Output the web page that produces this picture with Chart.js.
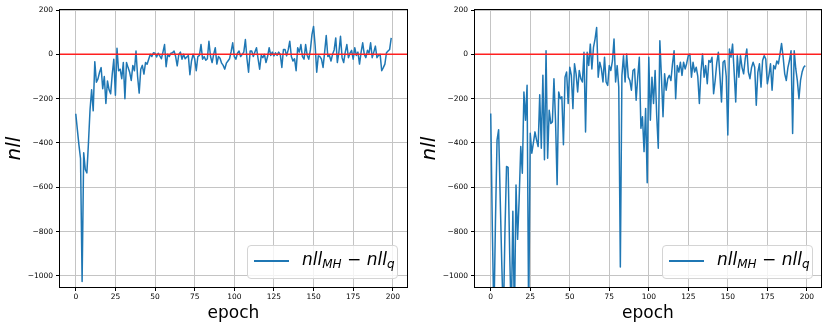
<!DOCTYPE html>
<html>
<head>
<meta charset="utf-8">
<script src="https://cdn.jsdelivr.net/npm/chart.js@4.4.1/dist/chart.umd.min.js"></script>
<style>
  body { margin: 0; background: #fff; }
  #wrap { position: relative; width: 830px; height: 328px; overflow: hidden; }
  #wrap canvas { position: absolute; top: 0; }
  .legend {
    position: absolute; box-sizing: border-box;
    border: 1px solid #d4d4d4; border-radius: 4px;
    background: rgba(255,255,255,0.8);
    font-family: "DejaVu Sans", sans-serif; color: #000;
  }
  .legend .swatch { position: absolute; left: 6px; top: 14px; width: 35px; height: 1.5px; background: #1f77b4; }
  .legend .label { position: absolute; left: 54px; top: 3px; font-size: 17px; line-height: 20px; font-style: italic; white-space: nowrap; }
  .legend .label .sub { font-size: 12px; vertical-align: -3px; }
  .legend .label .op { font-style: normal; }
</style>
</head>
<body>
<div id="wrap">
  <canvas id="chartLeft" width="415" height="328" style="left:0"></canvas>
  <canvas id="chartRight" width="415" height="328" style="left:415px"></canvas>
  <div class="legend" style="left:247px; top:245px; width:151px; height:34px;">
    <div class="swatch"></div>
    <div class="label">nll<span class="sub">MH</span><span class="op"> − </span>nll<span class="sub">q</span></div>
  </div>
  <div class="legend" style="left:662px; top:245px; width:151px; height:34px;">
    <div class="swatch"></div>
    <div class="label">nll<span class="sub">MH</span><span class="op"> − </span>nll<span class="sub">q</span></div>
  </div>
</div>
<script>
// nll_MH - nll_q per epoch
const nllLeft = [
  -268, -340, -410, -470, -1025, -444, -520, -535, -400, -250,
  -160, -255, -33, -126, -111, -81, -60, -155, -100, -222,
  -120, -160, -178, -90, -22, -185, 27, -74, -67, -110,
  -37, -200, -37, -60, -81, -118, -50, -74, 15, -100,
  -175, -67, -50, -89, -37, -45, -22, 0, -10, 7,
  5, -12, 5, -7, -20, 10, 44, -56, 0, -10,
  5, 7, 15, -10, -52, 0, 10, -22, 0, -20,
  -12, -5, -92, -30, 0, -20, -74, -10, -5, 44,
  -22, -10, -27, -20, 59, -10, -37, 0, 30, -44,
  -10, -18, -40, -50, -67, -40, -30, -20, 12, 52,
  -10, -22, 5, 15, -10, 0, 10, 67, -20, -81,
  15, 15, -10, 10, 30, -20, -67, -5, -15, 0,
  -37, -10, 30, -5, 10, -7, 7, -5, 10, 0,
  -59, 22, 22, -7, 20, 59, -10, -30, -20, -74,
  30, 10, 44, -10, -22, 44, -5, -22, 20, 89,
  126, 40, -81, -7, -10, -22, -59, 10, 85, -10,
  -5, -30, 0, 20, 74, -37, 10, 81, -15, -37,
  10, 44, -15, 5, 18, -22, 30, -5, 10, -44,
  10, 52, 0, -15, 18, 5, 52, -15, 10, 37,
  -15, -5, 0, -74, -60, -44, 7, 15, 22, 74
];
const nllRight = [
  -267, -780, -1200, -750, -387, -340, -650, -950, -1200, -800,
  -506, -510, -900, -1200, -708, -1200, -590, -835, -650, -416,
  -537, -170, -297, -140, -1200, -356, -446, -400, -350, -387,
  -416, -182, -424, -95, -476, 16, -469, -252, -312, -305,
  -110, -300, -588, -170, -200, -192, -408, -103, -80, -222,
  -58, -95, -245, -43, -88, -170, -73, -110, -125, 9,
  -350, 9, -50, 46, -66, 31, 69, 121, -103, -36,
  -66, -125, -13, -125, -140, -51, -73, -30, 69, -125,
  -51, -148, -960, -95, -6, -125, 1, -103, -118, -162,
  -73, -66, -207, -103, -13, -334, -282, -439, -245, -580,
  -13, -297, -103, -222, -73, -275, -424, 61, -103, -282,
  -88, -162, -110, -95, -118, -43, 16, -200, -51, -80,
  -36, -95, -36, -66, -40, -6, 1, -103, -36, -80,
  -58, -100, -222, -80, 1, -103, -51, -133, -28, -36,
  -13, -178, -118, -40, 9, -95, -215, -36, -28, -100,
  -364, 24, -13, 46, -80, -215, -6, -103, -6, -60,
  -88, -21, 24, -80, -110, -60, -36, -58, -230, -80,
  -43, -148, -28, -6, -21, -133, -95, -43, -162, -51,
  -66, -30, -43, 1, 49, -13, -88, -118, -60, -28,
  16, -357, 16, -66, -120, -200, -118, -80, -58, -51
];
const epochs = nllLeft.map((_, i) => i);
const xTicks = [0, 25, 50, 75, 100, 125, 150, 175, 200];
const yTicks = [-1000, -800, -600, -400, -200, 0, 200];
const xRange = [-9.95, 208.95];
const yRange = [-1050, 200];
const zeroLevel = 0;

const FONT = '"DejaVu Sans", sans-serif';
const fmt = v => v < 0 ? '\u2212' + Math.abs(v) : String(v);

// matplotlib-style box around the axes
const framePlugin = {
  id: 'frame',
  afterDraw(chart) {
    const a = chart.chartArea, ctx = chart.ctx;
    ctx.save();
    ctx.strokeStyle = '#000';
    ctx.lineWidth = 1;
    ctx.strokeRect(Math.round(a.left) - 0.5, Math.round(a.top) - 0.5,
      Math.round(a.right - a.left) + 1, Math.round(a.bottom - a.top) + 1);
    ctx.restore();
  }
};

function buildChart(id, series, yWidth, rightPad) {
  const grid = { color: '#c4c4c4', lineWidth: 1, tickColor: '#000', tickLength: 4 };
  return new Chart(document.getElementById(id), {
    type: 'line',
    data: {
      datasets: [
        { data: xRange.map(x => ({ x: x, y: zeroLevel })), borderColor: '#ff2020', borderWidth: 1.6, pointRadius: 0 },
        { data: epochs.map((e, i) => ({ x: e, y: series[i] })), borderColor: '#1f77b4', borderWidth: 1.5,
          pointRadius: 0, tension: 0, borderJoinStyle: 'round' }
      ]
    },
    options: {
      responsive: false,
      animation: false,
      events: [],
      layout: { padding: { top: 10, right: rightPad, left: 0, bottom: 0 } },
      plugins: { legend: { display: false }, tooltip: { enabled: false } },
      scales: {
        x: {
          type: 'linear', min: xRange[0], max: xRange[1],
          afterBuildTicks: a => { a.ticks = xTicks.map(v => ({ value: v })); },
          afterFit: a => { a.height = 41; },
          ticks: { font: { family: FONT, size: 7.5 }, color: '#000', padding: 2, maxRotation: 0, autoSkip: false, callback: fmt },
          grid: grid,
          border: { display: false },
          title: { display: true, text: 'epoch', color: '#000', font: { family: FONT, size: 17 }, padding: { top: 0, bottom: 4 } }
        },
        y: {
          min: yRange[0], max: yRange[1],
          afterBuildTicks: a => { a.ticks = yTicks.map(v => ({ value: v })); },
          afterFit: a => { a.width = yWidth; },
          ticks: { font: { family: FONT, size: 7.5 }, color: '#000', padding: 3, callback: fmt },
          grid: grid,
          border: { display: false },
          title: { display: true, text: 'nll', color: '#000', font: { family: FONT, size: 20, style: 'italic' }, padding: { top: 3, bottom: 0 } }
        }
      }
    },
    plugins: [framePlugin]
  });
}

buildChart('chartLeft', nllLeft, 60, 8);
buildChart('chartRight', nllRight, 60, 9);
</script>
</body>
</html>
